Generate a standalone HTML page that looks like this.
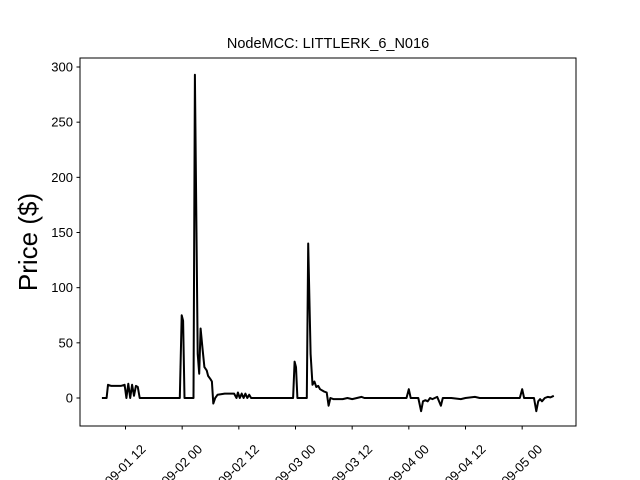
<!DOCTYPE html>
<html><head><meta charset="utf-8"><style>
html,body{margin:0;background:#fff;width:640px;height:480px;overflow:hidden}
svg{display:block;font-family:"Liberation Sans","DejaVu Sans",sans-serif;overflow:hidden}
</style></head><body>
<svg id="chart" width="640" height="480" viewBox="0 0 640 480" xmlns="http://www.w3.org/2000/svg">
<rect width="640" height="480" fill="#fff"/>
<text x="328" y="48" font-size="14.5" text-anchor="middle">NodeMCC: LITTLERK_6_N016</text>
<text x="0" y="0" font-size="26" text-anchor="middle" transform="translate(37,242) rotate(-90)">Price ($)</text>
<g id="plot"></g>
<rect x="80" y="58" width="496" height="368" fill="none" stroke="#000" stroke-width="1"/>
</svg>
<script>
const hours=[7,8,8.3,9,10,11,11.8,12.2,12.6,13,13.4,13.8,14.2,14.6,15,23.5,23.9,24.2,24.5,26.4,26.7,27.3,27.6,27.9,28.3,28.7,29.2,29.5,30,30.3,30.6,31,31.5,33,35,35.5,35.8,36.2,36.6,37,37.4,37.8,38.2,38.6,47.5,47.8,48.1,48.4,50.4,50.7,51.2,51.6,52,52.4,52.8,53.2,53.6,54,54.6,55,55.4,56,58,59,60,61,62,62.6,71.5,72,72.4,74,74.6,75,75.5,76,76.5,77,78,78.8,79.2,81,83,84,86,87,95.5,96,96.4,98.5,99,99.4,99.8,100.2,100.8,101.4,102,102.7];
const prices=[0,0,12,11,11,11,12,0,13,0,12,2,11,10,0,0,75,70,0,0,293,40,22,63,45,28,25,20,17,15,-5,0,3,4,4,0,5,0,4,0,4,0,3,0,0,33,28,0,0,140,40,12,15,10,11,8,7,6,5,-7,0,-1,-1,0,-1,0,1,0,0,8,0,0,-12,-3,-2,-3,0,-1,1,-7,0,0,-1,0,1,0,0,8,0,0,-12,-3,-1,-3,0,1,0.5,2];
const yTicks=[0,50,100,150,200,250,300];
const xTickHours=[12,24,36,48,60,72,84,96];
const xTickLabels=["2019-09-01 12","2019-09-02 00","2019-09-02 12","2019-09-03 00","2019-09-03 12","2019-09-04 00","2019-09-04 12","2019-09-05 00"];
const NS="http://www.w3.org/2000/svg";
const xs=h=>125.5+(h-12)*4.7222;
const ys=v=>398-v*1.1033;
const g=document.getElementById('plot');
function mk(t,a){const e=document.createElementNS(NS,t);for(const k in a)e.setAttribute(k,a[k]);return e;}
yTicks.forEach(v=>{
  const t=mk('line',{x1:76.5,x2:80,y1:ys(v),y2:ys(v),stroke:'#000'});
  
  
  g.appendChild(t);
  const l=mk('text',{x:73,y:ys(v)+4.5,'font-size':13,'text-anchor':'end'});
  
  
  l.textContent=v;g.appendChild(l);
});
xTickHours.forEach((h,i)=>{
  const x=xs(h);
  const t=mk('line',{x1:x,x2:x,y1:426,y2:429.5,stroke:'#000'});
  
  
  g.appendChild(t);
  const l=mk('text',{x:x+21,y:450,'font-size':13,'text-anchor':'end',transform:`rotate(-45 ${x+21} 450)`});
  
  
  l.textContent=xTickLabels[i];g.appendChild(l);
});
const d=hours.map((h,i)=>(i?'L':'M')+xs(h).toFixed(1)+' '+ys(prices[i]).toFixed(1)).join(' ');
const p=mk('path',{d:d,fill:'none',stroke:'#000','stroke-width':2,'stroke-linejoin':'round'});


g.appendChild(p);
</script>
</body></html>
